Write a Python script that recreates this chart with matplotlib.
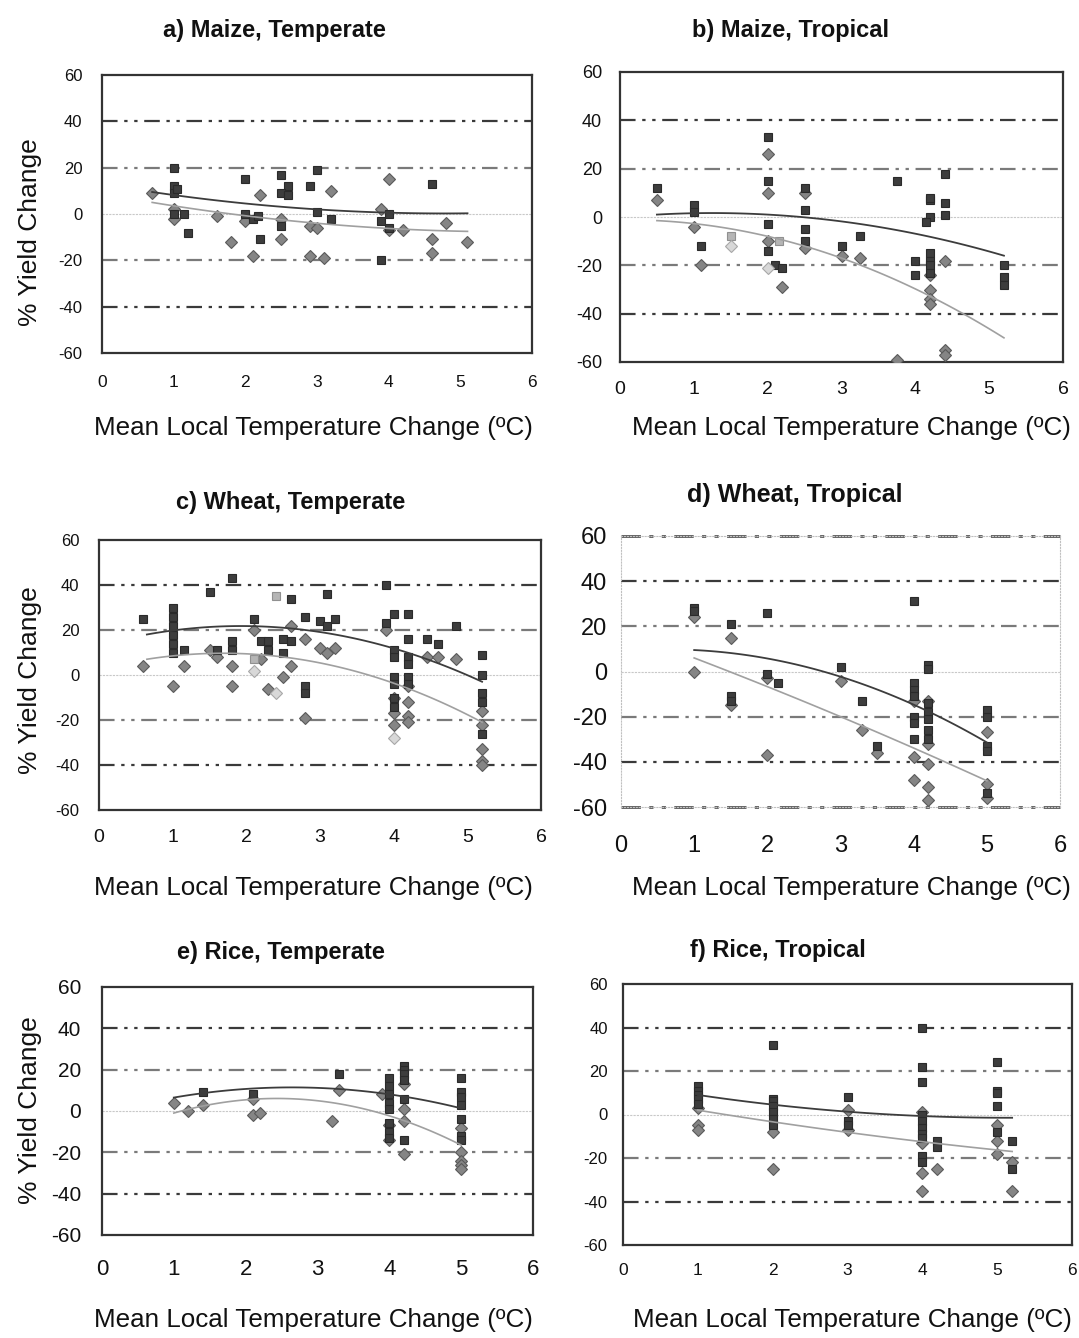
import numpy as np
import matplotlib
matplotlib.use("Agg")
import matplotlib.pyplot as plt

# ---------------- data ----------------
titles = ["a) Maize, Temperate", "b) Maize, Tropical", "c) Wheat, Temperate",
          "d) Wheat, Tropical", "e) Rice, Temperate", "f) Rice, Tropical"]
xlabel = "Mean Local Temperature Change (ºC)"
ylabel = "% Yield Change"
xticks = [0, 1, 2, 3, 4, 5, 6]
yticks = [-60, -40, -20, 0, 20, 40, 60]

# a) Maize, Temperate
a_sq_x = [1.0, 1.0, 1.0, 1.05, 1.0, 1.15, 1.2, 2.0, 2.0, 2.1, 2.17, 2.2, 2.5, 2.6, 2.5, 2.6, 2.5,
          2.9, 3.0, 3.0, 3.2, 3.9, 4.0, 4.0, 3.9, 4.6]
a_sq_y = [20, 12, 9, 11, 0, 0, -8, 15, 0, -2, -1, -11, 17, 12, 9, 8, -5,
          12, 19, 1, -2, -3, 0, -6, -20, 13]
a_di_x = [0.7, 1.0, 1.0, 1.6, 1.8, 2.0, 2.1, 2.2, 2.5, 2.5, 2.9, 3.0, 2.9, 3.1, 3.2, 3.9, 4.0,
          4.0, 4.2, 4.6, 4.6, 4.8, 5.1]
a_di_y = [9, 2, -2, -1, -12, -3, -18, 8, -2, -11, -5, -6, -18, -19, 10, 2, 15,
          -7, -7, -11, -17, -4, -12]
a_lsq_x, a_lsq_y, a_ldi_x, a_ldi_y = [], [], [], []
a_fit_dark = ([0.7, 3.0, 5.1], [9.5, 2.0, 0.3])
a_fit_light = ([0.7, 3.0, 5.1], [5.0, -4.0, -7.5])

# b) Maize, Tropical
b_sq_x = [0.5, 1.0, 1.0, 1.1, 2.0, 2.0, 2.0, 2.0, 2.1, 2.2, 2.5, 2.5, 2.5, 2.5, 3.0, 3.25, 3.75,
          4.0, 4.0, 4.2, 4.2, 4.2, 4.15, 4.2, 4.2, 4.2, 4.2, 4.4, 4.4, 4.4, 5.2, 5.2, 5.2]
b_sq_y = [12, 5, 2, -12, 33, 15, -3, -14, -20, -21, 12, 3, -5, -10, -12, -8, 15,
          -18, -24, 7, 8, 0, -2, -15, -18, -20, -23, 18, 6, 1, -20, -25, -28]
b_di_x = [0.5, 1.0, 1.1, 2.0, 2.0, 2.0, 2.2, 2.5, 2.5, 3.0, 3.25, 3.75, 4.2, 4.2, 4.2, 4.2,
          4.4, 4.4, 4.4]
b_di_y = [7, -4, -20, 26, 10, -10, -29, 10, -13, -16, -17, -59, -24, -30, -34, -36,
          -18, -55, -57]
b_lsq_x, b_lsq_y = [1.5, 2.15], [-8, -10]
b_ldi_x, b_ldi_y = [1.5, 2.0], [-12, -21]
b_fit_dark = ([0.5, 2.0, 5.2], [1.0, 1.0, -16.0])
b_fit_light = ([0.5, 2.0, 5.2], [-1.5, -8.0, -50.0])

# c) Wheat, Temperate
c_sq_x = [0.6, 1.0, 1.0, 1.0, 1.0, 1.0, 1.0, 1.15, 1.5, 1.8, 1.8, 1.8, 1.6, 2.1, 2.2, 2.3, 2.3,
          2.6, 2.5, 2.5, 2.6, 2.8, 2.8, 2.8, 3.0, 3.1, 3.1, 3.2, 3.9, 3.9, 4.0, 4.0, 4.0,
          4.0, 4.0, 4.0, 4.0, 4.2, 4.2, 4.2, 4.2, 4.2, 4.2, 4.45, 4.6, 4.85, 5.2, 5.2, 5.2,
          5.2, 5.2]
c_sq_y = [25, 30, 26, 22, 18, 14, 10, 11, 37, 43, 15, 11, 11, 25, 15, 15, 11,
          34, 16, 10, 15, 26, -5, -8, 24, 36, 22, 25, 40, 23, 27, 11, 8,
          -1, -4, -10, -14, 27, 16, 8, 5, -1, -4, 16, 14, 22, 9, 0, -8,
          -12, -26]
c_di_x = [0.6, 1.0, 1.15, 1.5, 1.6, 1.8, 1.8, 2.1, 2.2, 2.3, 2.5, 2.6, 2.6, 2.8, 2.8, 3.0, 3.1,
          3.2, 3.9, 4.0, 4.0, 4.0, 4.2, 4.2, 4.2, 4.2, 4.45, 4.6, 4.85, 5.2, 5.2, 5.2, 5.2, 5.2]
c_di_y = [4, -5, 4, 11, 8, 4, -5, 20, 7, -6, -1, 22, 4, 16, -19, 12, 10,
          12, 20, -10, -17, -22, -5, -12, -18, -21, 8, 8, 7, -16, -22, -33, -38, -40]
c_lsq_x, c_lsq_y = [2.4, 2.1], [35, 7]
c_ldi_x, c_ldi_y = [2.1, 2.4, 4.0], [2, -8, -28]
c_fit_dark = ([0.65, 2.5, 5.2], [18.0, 21.0, -3.0])
c_fit_light = ([0.65, 2.2, 5.2], [7.0, 9.0, -21.0])

# d) Wheat, Tropical
d_sq_x = [1.0, 1.0, 1.5, 1.5, 1.5, 2.0, 2.0, 2.15, 3.0, 3.3, 3.5, 4.0, 4.0, 4.0, 4.0, 4.0, 4.0,
          4.0, 4.2, 4.2, 4.2, 4.2, 4.2, 4.2, 4.2, 5.0, 5.0, 5.0, 5.0, 5.0]
d_sq_y = [28, 27, 21, -11, -13, 26, -1, -5, 2, -13, -33, 31, -5, -8, -11, -20, -23,
          -30, 3, 1, -14, -18, -21, -26, -30, -17, -20, -33, -35, -54]
d_di_x = [1.0, 1.0, 1.5, 1.5, 2.0, 2.0, 3.0, 3.3, 3.5, 4.0, 4.0, 4.0, 4.2, 4.2, 4.2, 4.2, 4.2,
          5.0, 5.0, 5.0]
d_di_y = [24, 0, 15, -15, -3, -37, -4, -26, -36, -13, -38, -48, -13, -32, -41, -51, -57,
          -27, -50, -56]
d_lsq_x, d_lsq_y, d_ldi_x, d_ldi_y = [], [], [], []
d_fit_dark = ([1.0, 3.0, 5.0], [9.5, -2.3, -31.4])
d_fit_light = ([1.0, 3.0, 5.0], [6.0, -20.0, -48.4])

# e) Rice, Temperate
e_sq_x = [1.4, 2.1, 3.3, 4.0, 4.0, 4.0, 4.0, 4.0, 4.0, 4.0, 4.0, 4.2, 4.2, 4.2, 4.2, 4.2, 4.2,
          5.0, 5.0, 5.0, 5.0, 5.0, 5.0, 5.0]
e_sq_y = [9, 8, 18, 16, 12, 8, 4, 1, -6, -10, -13, 22, 20, 18, 15, 6, -14,
          16, 9, 7, 3, -4, -12, -14]
e_di_x = [1.0, 1.2, 1.4, 2.1, 2.1, 2.2, 3.2, 3.3, 3.9, 4.0, 4.0, 4.2, 4.2, 4.2, 4.2,
          5.0, 5.0, 5.0, 5.0, 5.0]
e_di_y = [4, 0, 3, 6, -2, -1, -5, 10, 8, -7, -14, 13, 1, -5, -21,
          -8, -20, -24, -26, -28]
e_lsq_x, e_lsq_y, e_ldi_x, e_ldi_y = [], [], [], []
e_fit_dark = ([1.0, 2.9, 5.0], [6.5, 11.3, 1.3])
e_fit_light = ([1.0, 2.3, 5.0], [-1.0, 6.0, -16.5])

# f) Rice, Tropical
f_sq_x = [1.0, 1.0, 1.0, 1.0, 1.0, 2.0, 2.0, 2.0, 2.0, 2.0, 2.0, 2.0, 3.0, 3.0, 3.0,
          4.0, 4.0, 4.0, 4.0, 4.0, 4.0, 4.0, 4.0, 4.0, 4.0, 4.2, 4.2,
          5.0, 5.0, 5.0, 5.0, 5.0, 5.2, 5.2]
f_sq_y = [13, 11, 9, 7, 5, 32, 7, 6, 4, 1, -2, -5, 8, -3, -5,
          40, 22, 15, 0, -3, -6, -9, -11, -19, -22, -12, -15,
          24, 11, 10, 4, -8, -12, -25]
f_di_x = [1.0, 1.0, 1.0, 2.0, 2.0, 3.0, 3.0, 4.0, 4.0, 4.0, 4.0, 4.2, 5.0, 5.0, 5.0, 5.2, 5.2]
f_di_y = [3, -5, -7, -8, -25, 2, -7, 1, -13, -27, -35, -25, -5, -12, -18, -22, -35]
f_lsq_x, f_lsq_y, f_ldi_x, f_ldi_y = [], [], [], []
f_fit_dark = ([1.0, 3.0, 5.2], [9.0, 1.3, -1.5])
f_fit_light = ([1.0, 3.0, 5.2], [2.0, -8.2, -17.0])

panels = [
    (a_sq_x, a_sq_y, a_di_x, a_di_y, a_lsq_x, a_lsq_y, a_ldi_x, a_ldi_y, a_fit_dark, a_fit_light),
    (b_sq_x, b_sq_y, b_di_x, b_di_y, b_lsq_x, b_lsq_y, b_ldi_x, b_ldi_y, b_fit_dark, b_fit_light),
    (c_sq_x, c_sq_y, c_di_x, c_di_y, c_lsq_x, c_lsq_y, c_ldi_x, c_ldi_y, c_fit_dark, c_fit_light),
    (d_sq_x, d_sq_y, d_di_x, d_di_y, d_lsq_x, d_lsq_y, d_ldi_x, d_ldi_y, d_fit_dark, d_fit_light),
    (e_sq_x, e_sq_y, e_di_x, e_di_y, e_lsq_x, e_lsq_y, e_ldi_x, e_ldi_y, e_fit_dark, e_fit_light),
    (f_sq_x, f_sq_y, f_di_x, f_di_y, f_lsq_x, f_lsq_y, f_ldi_x, f_ldi_y, f_fit_dark, f_fit_light),
]

# ---------------- layout (pixels) ----------------
W, H = 1079, 1338
boxes = [(102, 532, 75, 353), (620, 1063, 72, 362),
         (99, 541, 540, 810), (621, 1060, 536, 807),
         (102, 533, 987, 1235), (623, 1072, 984, 1245)]
title_pos = [(274, 30), (790, 30), (291, 503), (795, 495), (281, 952), (778, 950)]
title_fs = [17, 17, 17, 18, 17, 17]
xlabel_pos = [(313, 428), (851, 428), (313, 888), (851, 888), (313, 1320), (852, 1320)]
ylabel_pos = [(30, 232), (30, 680), (30, 1110)]
tick_fs = [(12.5, 12), (14, 13), (14, 12), (17, 17), (16, 15), (12.5, 12)]
tick_pad = [(16, 14), (14, 13), (14, 14), (20, 10), (17, 15), (13, 11)]

plt.rcParams['font.family'] = ['Liberation Sans', 'DejaVu Sans']
narrow = ['Liberation Sans Narrow', 'Liberation Sans', 'DejaVu Sans']

fig = plt.figure(figsize=(W / 100, H / 100), dpi=100)

grid_dash = (0, (7, 3, 1.5, 3, 1.5, 3))
for i, (box, data) in enumerate(zip(boxes, panels)):
    l, r, t, b = box
    ax = fig.add_axes([l / W, 1 - b / H, (r - l) / W, (b - t) / H])
    sqx, sqy, dix, diy, lsqx, lsqy, ldix, ldiy, fd, fl = data
    ax.set_xlim(0, 6)
    ax.set_ylim(-60, 60)
    # gridlines
    for yv, col in [(40, '#3a3a3a'), (20, '#7a7a7a'), (-20, '#7a7a7a'), (-40, '#3a3a3a')]:
        ax.axhline(yv, color=col, lw=1.6, linestyle=grid_dash, zorder=1)
    ax.axhline(0, color='#c8c8c8', lw=0.8, linestyle=(0, (2, 1)), zorder=1)
    if i == 3:
        for yv in (60, -60):
            ax.axhline(yv, color='#555555', lw=2.0, linestyle=grid_dash, zorder=1, clip_on=False)
        for s in ax.spines.values():
            s.set_color('#c0c0c0')
            s.set_linewidth(0.8)
            s.set_linestyle(':')
    else:
        for s in ax.spines.values():
            s.set_color('#333333')
            s.set_linewidth(1.6)
    # curves
    for (fx, fy), col, lw in [(fd, '#3c3c3c', 1.3), (fl, '#a0a0a0', 1.2)]:
        coef = np.polyfit(fx, fy, 2)
        xs = np.linspace(min(fx), max(fx), 120)
        ax.plot(xs, np.polyval(coef, xs), color=col, lw=lw, zorder=4)
    # points
    ax.plot(dix, diy, linestyle='none', marker='D', ms=6.3, mfc='#858585', mec='#5a5a5a',
            mew=0.8, zorder=3)
    ax.plot(sqx, sqy, linestyle='none', marker='s', ms=6.3, mfc='#3d3d3d', mec='#2a2a2a',
            mew=0.8, zorder=3)
    ax.plot(lsqx, lsqy, linestyle='none', marker='s', ms=6.3, mfc='#b5b5b5', mec='#909090',
            mew=0.8, zorder=3)
    ax.plot(ldix, ldiy, linestyle='none', marker='D', ms=6.3, mfc='#d8d8d8', mec='#a8a8a8',
            mew=0.8, zorder=3)
    ax.set_xticks(xticks)
    ax.set_yticks(yticks)
    ax.set_xticklabels([str(v) for v in xticks], family=narrow, fontsize=tick_fs[i][0])
    ax.set_yticklabels([str(v) for v in yticks], family=narrow, fontsize=tick_fs[i][1])
    ax.tick_params(axis='x', length=0, pad=tick_pad[i][0], colors='#111111')
    ax.tick_params(axis='y', length=0, pad=tick_pad[i][1], colors='#111111')
    ax.set_facecolor('white')

    tx, ty = title_pos[i]
    fig.text(tx / W, 1 - ty / H, titles[i], ha='center', va='center',
             fontsize=title_fs[i], fontweight='bold', color='#111111')
    xx, xy = xlabel_pos[i]
    fig.text(xx / W, 1 - xy / H, xlabel, ha='center', va='center', fontsize=18.7,
             color='#111111')

for (yx, yy) in ylabel_pos:
    fig.text(yx / W, 1 - yy / H, ylabel, ha='center', va='center', rotation=90,
             fontsize=19, color='#111111')

fig.savefig("out.png", dpi=100, facecolor='white')
